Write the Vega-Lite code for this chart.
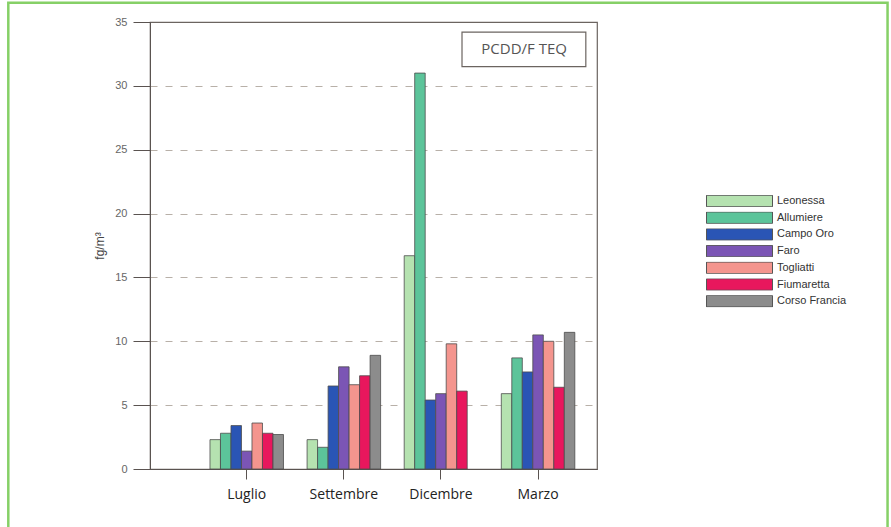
{
  "$schema": "https://vega.github.io/schema/vega-lite/v6.json",
  "width": 447,
  "height": 447,
  "autosize": {"type": "none"},
  "padding": {"left": 150, "top": 22, "right": 294, "bottom": 58},
  "background": "white",
  "config": {
    "view": {"stroke": "#6b6460", "strokeWidth": 1.2},
    "font": "Liberation Sans"
  },
  "layer": [
    {
      "data": {
        "values": [
          {"mese": "Luglio", "sito": "Leonessa", "valore": 2.3},
          {"mese": "Luglio", "sito": "Allumiere", "valore": 2.8},
          {"mese": "Luglio", "sito": "Campo Oro", "valore": 3.4},
          {"mese": "Luglio", "sito": "Faro", "valore": 1.4},
          {"mese": "Luglio", "sito": "Togliatti", "valore": 3.6},
          {"mese": "Luglio", "sito": "Fiumaretta", "valore": 2.8},
          {"mese": "Luglio", "sito": "Corso Francia", "valore": 2.7},
          {"mese": "Settembre", "sito": "Leonessa", "valore": 2.3},
          {"mese": "Settembre", "sito": "Allumiere", "valore": 1.7},
          {"mese": "Settembre", "sito": "Campo Oro", "valore": 6.5},
          {"mese": "Settembre", "sito": "Faro", "valore": 8.0},
          {"mese": "Settembre", "sito": "Togliatti", "valore": 6.6},
          {"mese": "Settembre", "sito": "Fiumaretta", "valore": 7.3},
          {"mese": "Settembre", "sito": "Corso Francia", "valore": 8.9},
          {"mese": "Dicembre", "sito": "Leonessa", "valore": 16.7},
          {"mese": "Dicembre", "sito": "Allumiere", "valore": 31.0},
          {"mese": "Dicembre", "sito": "Campo Oro", "valore": 5.4},
          {"mese": "Dicembre", "sito": "Faro", "valore": 5.9},
          {"mese": "Dicembre", "sito": "Togliatti", "valore": 9.8},
          {"mese": "Dicembre", "sito": "Fiumaretta", "valore": 6.1},
          {"mese": "Marzo", "sito": "Leonessa", "valore": 5.9},
          {"mese": "Marzo", "sito": "Allumiere", "valore": 8.7},
          {"mese": "Marzo", "sito": "Campo Oro", "valore": 7.6},
          {"mese": "Marzo", "sito": "Faro", "valore": 10.5},
          {"mese": "Marzo", "sito": "Togliatti", "valore": 10.0},
          {"mese": "Marzo", "sito": "Fiumaretta", "valore": 6.4},
          {"mese": "Marzo", "sito": "Corso Francia", "valore": 10.7}
        ]
      },
      "mark": {"type": "bar", "stroke": "#4d4d4d", "strokeWidth": 0.8},
      "encoding": {
        "x": {
          "field": "mese",
          "type": "nominal",
          "sort": ["Luglio", "Settembre", "Dicembre", "Marzo"],
          "scale": {"paddingInner": 0.243, "paddingOuter": 0.423, "align": 0.73},
          "axis": {
            "title": null,
            "labelAngle": 0,
            "tickSize": 10,
            "tickColor": "#5a5350",
            "domainColor": "#5a5350",
            "labelFont": "Open Sans",
            "labelFontSize": 14,
            "labelColor": "#222",
            "labelPadding": 8
          }
        },
        "xOffset": {
          "field": "sito",
          "type": "nominal",
          "scale": {"domain": ["Leonessa", "Allumiere", "Campo Oro", "Faro", "Togliatti", "Fiumaretta", "Corso Francia"]}
        },
        "y": {
          "field": "valore",
          "type": "quantitative",
          "scale": {"domain": [0, 35], "nice": false},
          "axis": {
            "values": [0, 5, 10, 15, 20, 25, 30, 35],
            "tickSize": 17,
            "tickColor": "#5a5350",
            "domainColor": "#5a5350",
            "labelFontSize": 11,
            "labelColor": "#666",
            "labelPadding": 6,
            "gridDash": [7, 8],
            "gridColor": "#b8b0a8",
            "gridOpacity": {"condition": {"test": "datum.value == 35 || datum.value == 0", "value": 0}, "value": 1},
            "title": "fg/m³",
            "titleFontSize": 12,
            "titleFontWeight": "normal",
            "titleColor": "#444",
            "titlePadding": 8
          }
        },
        "color": {
          "field": "sito",
          "type": "nominal",
          "scale": {
            "domain": ["Leonessa", "Allumiere", "Campo Oro", "Faro", "Togliatti", "Fiumaretta", "Corso Francia"],
            "range": ["#b5e2b0", "#5cc49a", "#2a55b5", "#7b55b5", "#f4958e", "#e8175d", "#8c8c8c"]
          },
          "legend": {
            "title": null,
            "orient": "none",
            "legendX": 556,
            "legendY": 173,
            "padding": 0,
            "symbolType": "M-1,-0.174H1V0.174H-1Z",
            "symbolSize": 4356,
            "symbolStrokeColor": "#555",
            "symbolStrokeWidth": 1,
            "symbolFillOpacity": 1,
            "clipHeight": 12,
            "labelFontSize": 11,
            "labelColor": "#333",
            "labelOffset": 4,
            "rowPadding": 4.7
          }
        }
      }
    },
    {
      "data": {"values": [{"etichetta": "PCDD/F TEQ"}]},
      "layer": [
        {
          "mark": {"type": "rect", "fill": "white", "stroke": "#6b6460", "strokeWidth": 1.2},
          "encoding": {
            "x": {"datum": 0.698, "type": "quantitative", "scale": {"domain": [0, 1], "nice": false, "zero": false}, "axis": null},
            "x2": {"datum": 0.975},
            "y": {"datum": 34.2, "type": "quantitative"},
            "y2": {"datum": 31.5}
          }
        },
        {
          "mark": {"type": "text", "font": "Open Sans", "fontSize": 15, "color": "#555", "align": "center", "baseline": "middle"},
          "encoding": {
            "x": {"datum": 0.837, "type": "quantitative"},
            "y": {"datum": 32.85, "type": "quantitative"},
            "text": {"field": "etichetta"}
          }
        },
        {
          "mark": {"type": "rect", "fill": null, "stroke": "#86d067", "strokeWidth": 2.5},
          "encoding": {
            "x": {"datum": -0.317, "type": "quantitative"},
            "x2": {"datum": 1.65},
            "y": {"datum": 36.5, "type": "quantitative"},
            "y2": {"datum": -6}
          }
        }
      ]
    }
  ],
  "resolve": {"scale": {"x": "independent"}}
}
